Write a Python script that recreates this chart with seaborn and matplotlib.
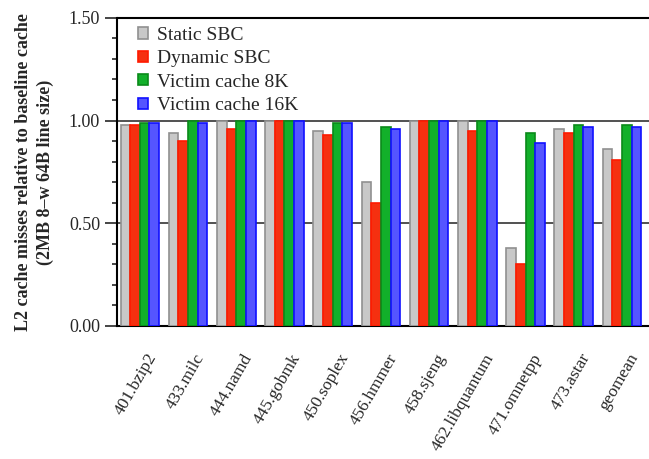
import pandas as pd
import matplotlib.pyplot as plt
import matplotlib.transforms as mtransforms
import seaborn as sns
from matplotlib.ticker import MultipleLocator

benchmarks = ['401.bzip2', '433.milc', '444.namd', '445.gobmk', '450.soplex',
              '456.hmmer', '458.sjeng', '462.libquantum', '471.omnetpp',
              '473.astar', 'geomean']
series = ['Static SBC', 'Dynamic SBC', 'Victim cache 8K', 'Victim cache 16K']

static_sbc = [0.98, 0.94, 1.00, 1.00, 0.95, 0.70, 1.00, 1.00, 0.38, 0.96, 0.86]
dynamic_sbc = [0.98, 0.90, 0.96, 1.00, 0.93, 0.60, 1.00, 0.95, 0.30, 0.94, 0.81]
victim_8k = [0.99, 1.00, 1.00, 1.00, 0.99, 0.97, 1.00, 1.00, 0.94, 0.98, 0.98]
victim_16k = [0.99, 0.99, 1.00, 1.00, 0.99, 0.96, 1.00, 1.00, 0.89, 0.97, 0.97]

fills = ['#c8c8c8', '#f53010', '#12b02a', '#5555ff']
edges = ['#909090', '#ff1a00', '#0a8a1a', '#1010ff']

rows = []
for name, vals in zip(series, [static_sbc, dynamic_sbc, victim_8k, victim_16k]):
    for b, v in zip(benchmarks, vals):
        rows.append({'benchmark': b, 'series': name, 'value': v})
df = pd.DataFrame(rows)

sns.set_style('white')
plt.rcParams['font.family'] = ['Liberation Serif', 'DejaVu Serif']

fig = plt.figure(figsize=(6.49, 4.59), dpi=100)
ax = fig.add_axes([0.180, 0.290, 0.820, 0.671])

sns.barplot(data=df, x='benchmark', y='value', hue='series', order=benchmarks,
            hue_order=series, palette=fills, width=0.8, saturation=1,
            linewidth=1.2, ax=ax, zorder=3)
for cont, ec in zip(ax.containers, edges):
    for patch in cont.patches:
        patch.set_edgecolor(ec)

for y in (0.5, 1.0):
    ax.axhline(y, color='#333333', lw=1.2, zorder=1)
ax.axhline(1.5, color='black', lw=1.5, zorder=1, clip_on=False)

ax.set_ylim(0, 1.5)
ax.set_xlim(-0.477, 10.56)
ax.yaxis.set_major_locator(MultipleLocator(0.5))
ax.yaxis.set_minor_locator(MultipleLocator(0.1))
ax.set_yticklabels([f'{t:.2f}' for t in ax.get_yticks()])
ax.tick_params(axis='y', which='major', left=True, direction='out', length=9,
               width=1.2, labelsize=13, pad=3)
ax.tick_params(axis='y', which='minor', left=True, direction='out', length=3.5,
               width=1.2)
ax.tick_params(axis='x', bottom=False, labelsize=12.5, pad=0)

# push the rotated benchmark names down and a bit right, as in the original
shift = mtransforms.ScaledTranslation(6 / 100, -20 / 100, fig.dpi_scale_trans)
for lbl in ax.get_xticklabels():
    lbl.set_rotation(60)
    lbl.set_ha('right')
    lbl.set_va('top')
    lbl.set_rotation_mode('anchor')
    lbl.set_transform(lbl.get_transform() + shift)

for s in ['top', 'right']:
    ax.spines[s].set_visible(False)
for s in ['left', 'bottom']:
    ax.spines[s].set_color('black')
    ax.spines[s].set_linewidth(1.5)

ax.set_xlabel('')
ax.set_ylabel('L2 cache misses relative to baseline cache\n(2MB 8\u2013w 64B line size)',
              fontsize=13, fontweight='bold', labelpad=11, linespacing=1.3)

leg = ax.legend(loc='upper left', bbox_to_anchor=(0.015, 1.015), frameon=False,
                fontsize=14, handlelength=0.5, handleheight=0.5,
                handletextpad=0.45, labelspacing=0.33, borderaxespad=0.3)
for h, ec in zip(leg.legend_handles, edges):
    h.set_edgecolor(ec)
    h.set_linewidth(1.2)

fig.savefig('out.png', dpi=100)
